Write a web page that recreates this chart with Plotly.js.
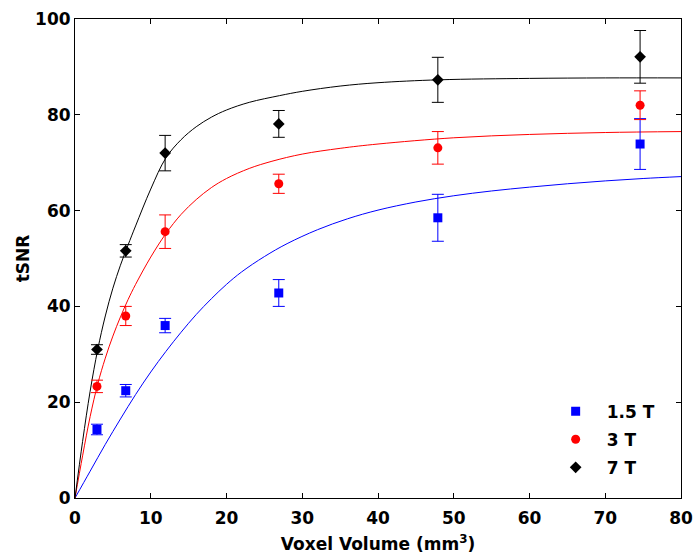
<!DOCTYPE html>
<html>
<head>
<meta charset="utf-8">
<script src="https://cdn.plot.ly/plotly-3.0.1.min.js"></script>
<style>html,body{margin:0;padding:0;background:#fff;}#chart{width:693px;height:560px;}</style>
</head>
<body>
<div id="chart"></div>
<script>
// measured voxel volumes (mm^3)
const voxelVolume = [2.9, 6.7, 11.9, 26.9, 47.9, 74.6];
const seriesNames = ['1.5 T', '3 T', '7 T'];

// tSNR means and error bars
const tsnr15 = [14.3, 22.4, 36.0, 42.8, 58.5, 73.9];
const err15  = [1.1, 1.3, 1.5, 2.8, 4.9, 5.3];
const tsnr3  = [23.3, 38.0, 55.6, 65.6, 73.1, 82.0];
const err3   = [1.3, 2.0, 3.5, 2.0, 3.4, 3.0];
const tsnr7  = [31.0, 51.6, 72.0, 78.1, 87.3, 92.1];
const err7   = [1.0, 1.3, 3.7, 2.8, 4.7, 5.5];

// fitted curves
const fitX15 = [0, 2, 4, 6, 8, 10, 12, 14, 16, 18, 20, 22, 25, 28, 32, 36, 40, 45, 50, 55, 60, 65, 70, 75, 80];
const fitY15 = [0, 5.6, 11.2, 16.5, 21.6, 26.3, 30.6, 34.6, 38.3, 41.6, 44.6, 47.2, 50.4, 53.1, 56.0, 58.3, 60.1, 61.8, 63.1, 64.1, 64.9, 65.6, 66.2, 66.7, 67.1];
const fitX3  = [0, 1, 2, 3, 4, 5, 6, 7, 8, 10, 12, 14, 16, 18, 20, 23, 26, 30, 35, 40, 50, 60, 70, 80];
const fitY3  = [0, 8.8, 17.0, 23.8, 29.2, 33.8, 37.8, 41.4, 44.6, 50.3, 55.2, 59.2, 62.3, 64.8, 66.7, 68.8, 70.3, 71.8, 73.0, 73.9, 75.2, 75.9, 76.3, 76.5];
const fitX7  = [0, 1, 2, 3, 4, 5, 6, 7, 8, 10, 12, 14, 16, 18, 20, 23, 27, 30, 35, 40, 48, 60, 70, 80];
const fitY7  = [0, 11.8, 22.3, 31.0, 38.0, 43.8, 48.6, 52.8, 56.8, 64.5, 71.0, 74.8, 77.5, 79.5, 81.0, 82.6, 84.0, 84.9, 86.0, 86.7, 87.3, 87.6, 87.7, 87.7];

const colors = ['#0000ff', '#ff0000', '#000000'];
const symbols = ['square', 'circle', 'diamond'];
const FONT = 'DejaVu Sans, Arial, sans-serif';

function fitTrace(x, y, c) {
  return {x: x, y: y, type: 'scatter', mode: 'lines', showlegend: false, hoverinfo: 'skip',
          line: {color: c, width: 1, shape: 'spline', smoothing: 1}};
}
function dataTrace(y, e, i) {
  return {x: voxelVolume, y: y, type: 'scatter', mode: 'markers', name: seriesNames[i],
          legendgroup: 'g' + i,
          marker: {color: colors[i], symbol: symbols[i], size: 9},
          error_y: {type: 'data', array: e, visible: true, color: colors[i], thickness: 1, width: 6}};
}

const traces = [
  fitTrace(fitX15, fitY15, colors[0]),
  fitTrace(fitX3, fitY3, colors[1]),
  fitTrace(fitX7, fitY7, colors[2]),
  dataTrace(tsnr15, err15, 0),
  dataTrace(tsnr3, err3, 1),
  dataTrace(tsnr7, err7, 2)
];

const axisCommon = {
  showgrid: false, zeroline: false, showline: true, linecolor: '#000', linewidth: 1,
  mirror: 'ticks', ticks: 'inside', ticklen: 5, tickcolor: '#000', tickwidth: 1,
  ticklabeloverflow: 'allow',
  tickfont: {family: FONT, size: 17, color: '#000', weight: 'bold'}
};

const layout = {
  width: 693, height: 560,
  margin: {l: 75, r: 12, t: 19, b: 62},
  paper_bgcolor: '#fff', plot_bgcolor: '#fff',
  showlegend: true,
  legend: {x: 0.775, y: 0.218, xanchor: 'left', yanchor: 'top', bgcolor: 'rgba(0,0,0,0)',
           traceorder: 'grouped', tracegroupgap: 3, itemwidth: 52,
           font: {family: FONT, size: 17, color: '#000', weight: 'bold'}},
  xaxis: Object.assign({}, axisCommon, {range: [0, 80], dtick: 10, tick0: 0, ticklabelstandoff: 5,
    title: {text: 'Voxel Volume (mm<sup>3</sup>)', font: {family: FONT, size: 17, color: '#000', weight: 'bold'}, standoff: 10}}),
  yaxis: Object.assign({}, axisCommon, {range: [0, 100], dtick: 20, tick0: 0,
    title: {text: 'tSNR', font: {family: FONT, size: 17, color: '#000', weight: 'bold'}, standoff: 1}})
};

Plotly.newPlot('chart', traces, layout, {displayModeBar: false, staticPlot: true});
</script>
</body>
</html>
